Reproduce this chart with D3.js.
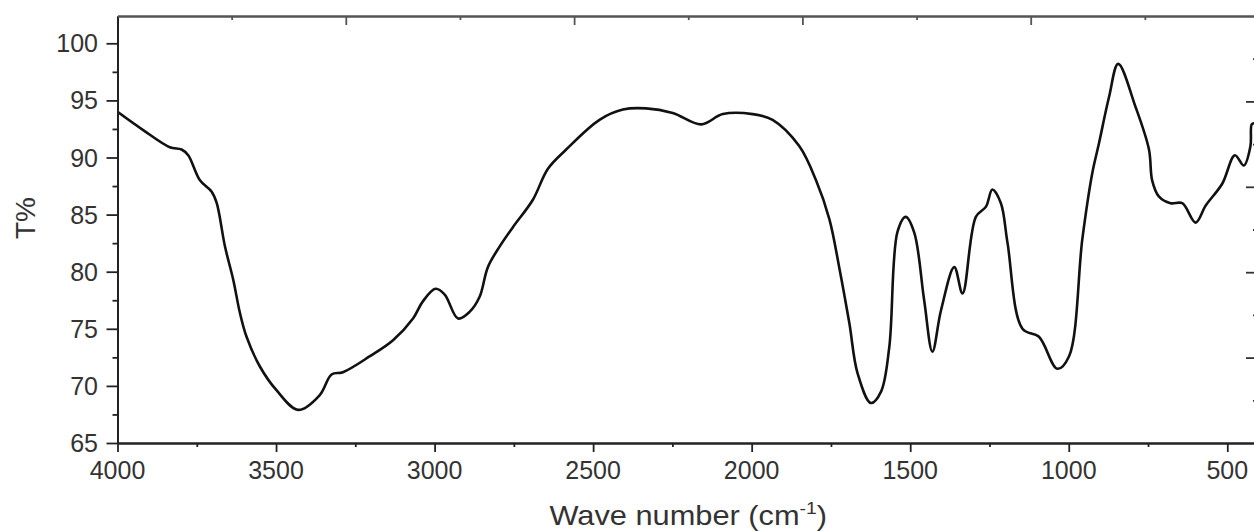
<!DOCTYPE html>
<html>
<head>
<meta charset="utf-8">
<script src="https://cdn.jsdelivr.net/npm/d3@7"></script>
<style>
  body { margin: 0; background: #fff; }
  svg { display: block; font-family: "Liberation Sans", Arial, sans-serif; }
  .tickLabel { fill: #333; font-size: 25px; }
</style>
</head>
<body>
<svg id="chart" width="1254" height="532"></svg>
<script>
// FTIR spectrum
const waveNumber = [4000, 3919, 3835, 3798, 3777, 3740, 3703, 3687, 3661, 3635, 3614, 3593, 3551, 3498, 3430,
  3362, 3325, 3289, 3204, 3131, 3068, 3037, 2997, 2968, 2926, 2889, 2858, 2832, 2795, 2753, 2690, 2643,
  2585, 2480, 2406, 2333, 2249, 2159, 2091, 1997, 1934, 1850, 1797, 1755, 1724, 1692, 1666, 1624, 1592,
  1566, 1540, 1514, 1487, 1456, 1430, 1403, 1361, 1335, 1293, 1261, 1241, 1214, 1193, 1146, 1094, 1036,
  999, 957, 926, 905, 873, 844, 789, 747, 737, 716, 679, 642, 600, 568, 516, 476, 448, 427, 423, 415];
const transmittance = [94.0, 92.4, 90.9, 90.7, 90.2, 88.0, 87.0, 86.0, 82.2, 79.3, 76.4, 74.3, 71.7, 69.6, 67.9,
  69.2, 71.0, 71.2, 72.6, 74.0, 75.9, 77.4, 78.5, 78.0, 75.9, 76.5, 77.8, 80.4, 82.2, 83.9, 86.3, 89.0,
  90.7, 93.3, 94.2, 94.3, 93.9, 92.9, 93.8, 93.8, 93.3, 91.0, 88.0, 84.6, 80.4, 75.5, 71.1, 68.5, 69.5,
  73.4, 83.5, 84.8, 83.4, 77.5, 73.0, 76.6, 80.4, 78.1, 84.8, 85.7, 87.2, 86.0, 82.5, 75.0, 74.3, 71.5,
  72.6, 82.9, 88.6, 91.2, 95.3, 98.2, 94.4, 90.7, 88.0, 86.6, 86.0, 86.0, 84.3, 85.8, 87.7, 90.2, 89.3, 91.0, 92.9, 93.0];
const xTicks = [4000, 3500, 3000, 2500, 2000, 1500, 1000, 500];
const yTicks = [65, 70, 75, 80, 85, 90, 95, 100];

const data = waveNumber.map((w, i) => ({w: w, t: transmittance[i]}));

const svg = d3.select("#chart");
const plotLeft = 117.5, plotRight = 1259, plotTop = 16, plotBottom = 443;

const x = d3.scaleLinear().domain([4000, 400]).range([plotLeft, plotRight]);
const y = d3.scaleLinear().domain([65, 65 + (plotBottom - plotTop) / 11.42]).range([plotBottom, plotTop]);
  // unlabelled top / right axes split the frame into equal parts
const xTop = d3.scaleLinear().domain([0, 10]).range([plotLeft, plotRight]);
const yRight = d3.scaleLinear().domain([0, 10]).range([plotBottom, plotTop]);

svg.append("clipPath").attr("id", "plotClip")
  .append("rect").attr("x", plotLeft).attr("y", plotTop)
  .attr("width", plotRight - plotLeft).attr("height", plotBottom - plotTop);

svg.append("path")
  .datum(data)
  .attr("clip-path", "url(#plotClip)")
  .attr("fill", "none")
  .attr("stroke", "#111")
  .attr("stroke-width", 2.6)
  .attr("stroke-linejoin", "round")
  .attr("d", d3.line().x(d => x(d.w)).y(d => y(d.t)).curve(d3.curveCatmullRom.alpha(0.5)));

function styleAxis(g, color) {
  g.selectAll("path.domain").attr("stroke", color).attr("stroke-width", 2);
  g.selectAll(".tick line").attr("stroke", color).attr("stroke-width", 1.8);
  g.selectAll("text").remove();
}

  // bottom axis: minor ticks first, then labelled majors
svg.append("g").attr("transform", `translate(0,${plotBottom})`)
  .call(d3.axisBottom(x).tickValues(d3.range(3750, 400, -500)).tickSize(4).tickSizeOuter(0))
  .call(g => styleAxis(g, "#222"));
svg.append("g").attr("transform", `translate(0,${plotBottom})`)
  .call(d3.axisBottom(x).tickValues(xTicks).tickSize(9).tickSizeOuter(0))
  .call(g => styleAxis(g, "#222"));
svg.selectAll("text.xLabel").data(xTicks).join("text")
  .attr("class", "tickLabel xLabel")
  .attr("x", d => x(d))
  .attr("y", 479)
  .attr("text-anchor", "middle")
  .text(d => d);

  // left axis
svg.append("g").attr("transform", `translate(${plotLeft},0)`)
  .call(d3.axisLeft(y).tickValues(d3.range(67.5, 102, 5)).tickSize(5).tickSizeOuter(0))
  .call(g => styleAxis(g, "#222"));
svg.append("g").attr("transform", `translate(${plotLeft},0)`)
  .call(d3.axisLeft(y).tickValues(yTicks).tickSize(11).tickSizeOuter(0))
  .call(g => styleAxis(g, "#222"));
svg.selectAll("text.yLabel").data(yTicks).join("text")
  .attr("class", "tickLabel yLabel")
  .attr("x", 98)
  .attr("y", d => y(d))
  .attr("dy", "0.36em")
  .attr("text-anchor", "end")
  .text(d => d);

  // top axis, ticks pointing in
svg.append("g").attr("transform", `translate(0,${plotTop})`)
  .call(d3.axisTop(xTop).tickValues(d3.range(1, 10, 2)).tickSize(-4).tickSizeOuter(0))
  .call(g => styleAxis(g, "#555"));
svg.append("g").attr("transform", `translate(0,${plotTop})`)
  .call(d3.axisTop(xTop).tickValues(d3.range(2, 10, 2)).tickSize(-9).tickSizeOuter(0))
  .call(g => styleAxis(g, "#555"));

  // right axis, ticks pointing in
svg.append("g").attr("transform", `translate(${plotRight},0)`)
  .call(d3.axisRight(yRight).tickValues(d3.range(1, 10, 2)).tickSize(-6).tickSizeOuter(0))
  .call(g => styleAxis(g, "#333"));
svg.append("g").attr("transform", `translate(${plotRight},0)`)
  .call(d3.axisRight(yRight).tickValues(d3.range(2, 10, 2)).tickSize(-13).tickSizeOuter(0))
  .call(g => styleAxis(g, "#333"));

  // axis titles (the original type is a little wide)
const xTitle = svg.append("text")
  .attr("transform", `translate(${(plotLeft + plotRight) / 2},525) scale(1.14,1)`)
  .attr("text-anchor", "middle")
  .attr("fill", "#333")
  .style("font-size", "27px");
xTitle.append("tspan").text("Wave number (cm");
xTitle.append("tspan").attr("dy", -11).style("font-size", "17px").text("-1");
xTitle.append("tspan").attr("dy", 11).text(")");

svg.append("text")
  .attr("transform", "translate(35,218) rotate(-90)")
  .attr("text-anchor", "middle")
  .attr("fill", "#333")
  .style("font-size", "28px")
  .text("T%");
</script>
</body>
</html>
